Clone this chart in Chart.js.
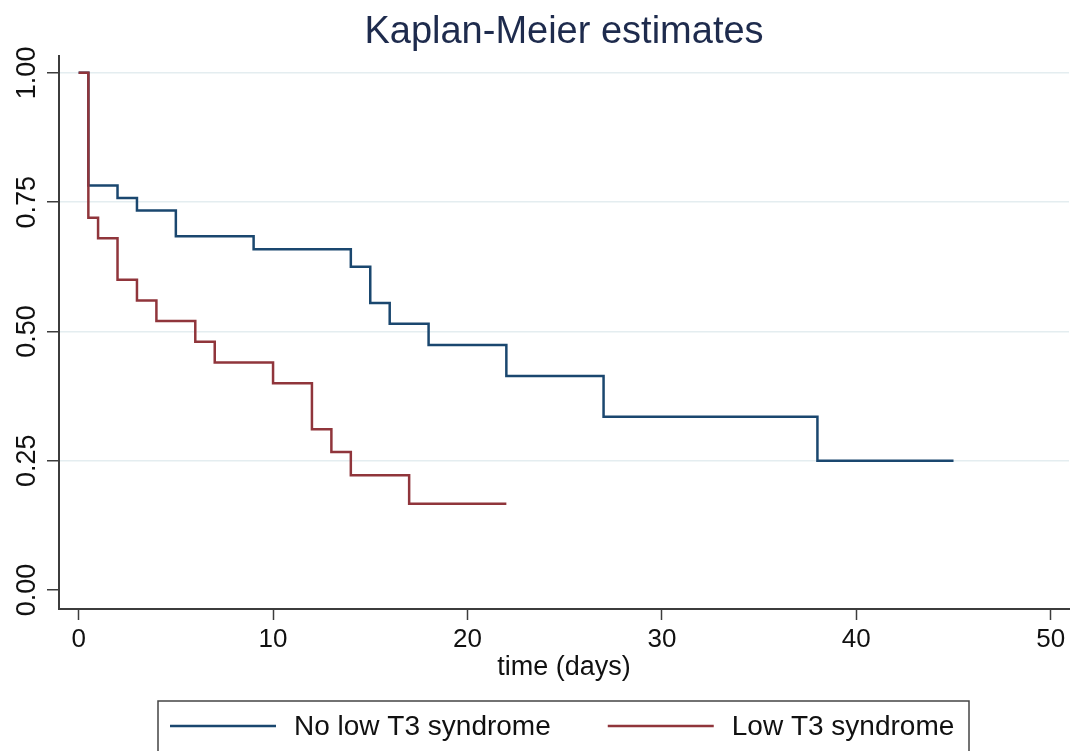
<!DOCTYPE html>
<html>
<head>
  <title>Kaplan-Meier estimates</title>
  <style>
    body { margin: 0; padding: 0; background: #fff; }
    #wrap { position: relative; width: 1072px; height: 751px; }
  </style>
</head>
<body>

<div id="wrap">
  <canvas id="km-chart"></canvas>
</div>

<script src="https://cdn.jsdelivr.net/npm/chart.js"></script>
<script>
// survival estimates (time in days, S(t))
const seriesLabels = ['No low T3 syndrome', 'Low T3 syndrome'];
const timesNoLowT3 = [0, 0.5, 2, 3, 5, 9, 14, 15, 16, 18, 22, 27, 38, 45];
const survNoLowT3  = [1, 0.782, 0.758, 0.734, 0.684, 0.659, 0.625, 0.555, 0.515, 0.474, 0.414, 0.335, 0.25, 0.25];
const timesLowT3   = [0, 0.5, 1, 2, 3, 4, 6, 7, 10, 12, 13, 14, 17, 22];
const survLowT3    = [1, 0.72, 0.68, 0.60, 0.56, 0.52, 0.48, 0.44, 0.40, 0.311, 0.267, 0.222, 0.167, 0.167];
const xTicks = [0, 10, 20, 30, 40, 50];
const yTicks = [0, 0.25, 0.50, 0.75, 1.00];

const FONT = "'Liberation Sans', Arial, sans-serif";
const blue = '#1a476f';
const red = '#90353b';
const axisColor = '#3c3c3c';

Chart.defaults.font.family = FONT;
Chart.defaults.color = '#111';

function toPoints(xs, ys) {
  return xs.map((x, i) => ({ x: x, y: ys[i] }));
}

// stata style legend box under the axis title
const boxLegend = {
  id: 'boxLegend',
  afterDraw(chart) {
    const ctx = chart.ctx;
    const left = 158, right = 969, top = 701, bottom = 760;
    const midY = 727;
    ctx.save();
    ctx.fillStyle = '#fff';
    ctx.fillRect(left, top, right - left, bottom - top);
    ctx.strokeStyle = '#444';
    ctx.lineWidth = 1.5;
    ctx.strokeRect(left, top, right - left, bottom - top);

    ctx.font = '28px ' + FONT;
    ctx.textBaseline = 'middle';
    ctx.textAlign = 'left';
    let x = left + 12;
    chart.data.datasets.forEach((ds, i) => {
      ctx.strokeStyle = ds.borderColor;
      ctx.lineWidth = 2.5;
      ctx.beginPath();
      ctx.moveTo(x, midY - 1);
      ctx.lineTo(x + 106, midY - 1);
      ctx.stroke();
      ctx.fillStyle = '#111';
      ctx.fillText(ds.label, x + 124, midY);
      x = x + 124 + ctx.measureText(ds.label).width + 57;
    });
    ctx.restore();
  }
};

const ctx = document.getElementById('km-chart').getContext('2d');
new Chart(ctx, {
  type: 'line',
  data: {
    datasets: [
      {
        label: seriesLabels[0],
        data: toPoints(timesNoLowT3, survNoLowT3),
        borderColor: blue,
        backgroundColor: blue,
        borderWidth: 2.5,
        pointRadius: 0,
        stepped: true,
        order: 2
      },
      {
        label: seriesLabels[1],
        data: toPoints(timesLowT3, survLowT3),
        borderColor: red,
        backgroundColor: red,
        borderWidth: 2.5,
        pointRadius: 0,
        stepped: true,
        order: 1
      }
    ]
  },
  options: {
    responsive: true,
    maintainAspectRatio: false,
    animation: false,
    layout: { padding: { left: 0, right: 3, top: 0, bottom: 52 } },
    plugins: {
      legend: { display: false },
      tooltip: { enabled: false },
      title: {
        display: true,
        text: 'Kaplan-Meier estimates',
        fullSize: false,
        color: '#1e2b4d',
        font: { size: 38, weight: 'normal' },
        padding: { top: 10, bottom: 0 }
      }
    },
    scales: {
      x: {
        type: 'linear',
        min: -1.01,
        max: 50.94,
        afterBuildTicks: s => { s.ticks = xTicks.map(v => ({ value: v })); },
        afterFit: s => { s.height = 90; s.paddingLeft = 0; s.paddingRight = 0; },
        ticks: {
          font: { size: 26 },
          color: '#111',
          padding: 4,
          maxRotation: 0,
          callback: v => String(v)
        },
        grid: {
          drawOnChartArea: false,
          drawTicks: true,
          tickLength: 11,
          tickColor: axisColor,
          tickWidth: 1.5
        },
        border: { color: axisColor, width: 2 },
        title: {
          display: true,
          text: 'time (days)',
          color: '#111',
          font: { size: 27 },
          padding: { top: 0, bottom: 15 }
        }
      },
      y: {
        type: 'linear',
        min: -0.0367,
        max: 1.0334,
        afterBuildTicks: s => { s.ticks = yTicks.map(v => ({ value: v })); },
        afterFit: s => { s.width = 59; s.paddingTop = 0; s.paddingBottom = 0; },
        ticks: {
          font: { size: 27 },
          color: '#111',
          minRotation: 90,
          maxRotation: 90,
          crossAlign: 'center',
          padding: -7,
          callback: v => Number(v).toFixed(2)
        },
        grid: {
          color: c => (c.tick && c.tick.value === 0) ? 'rgba(0,0,0,0)' : '#e4edf0',
          lineWidth: 1.5,
          tickLength: 12,
          tickColor: axisColor,
          tickWidth: 1.5
        },
        border: { color: axisColor, width: 2 }
      }
    }
  },
  plugins: [boxLegend]
});
</script>

</body>
</html>
